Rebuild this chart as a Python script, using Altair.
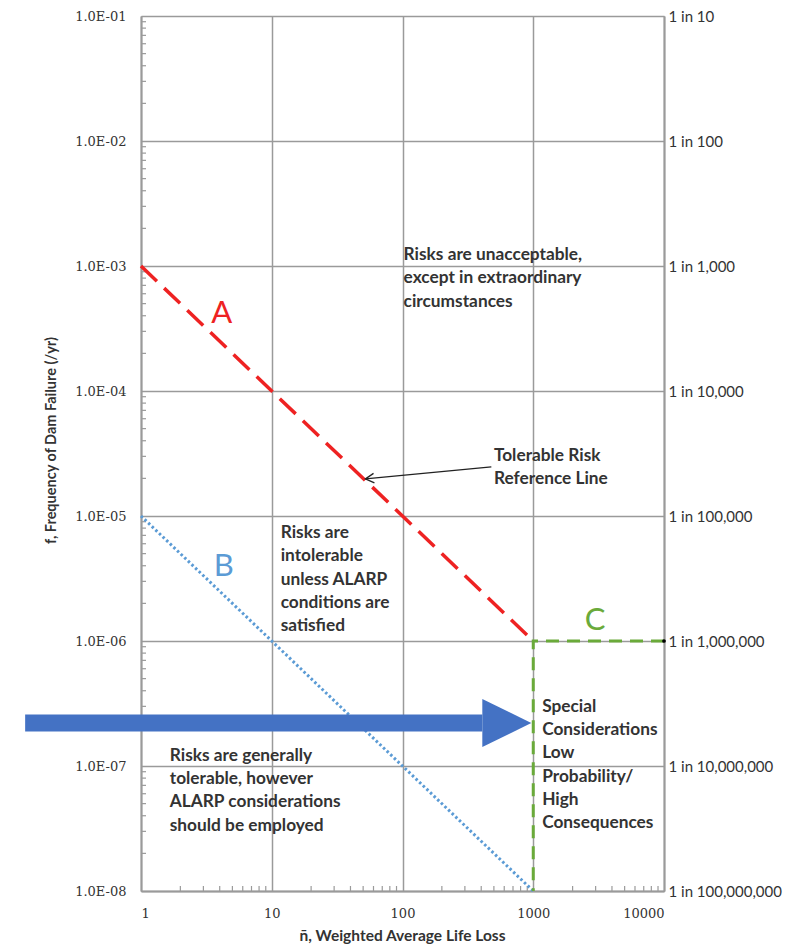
import altair as alt
import pandas as pd

# ---------------- data ----------------
x_ticks = [1, 10, 100, 1000, 10000]
x_labels = ["1", "10", "100", "1000", "10000"]
y_ticks = [1e-8, 1e-7, 1e-6, 1e-5, 1e-4, 1e-3, 1e-2, 1e-1]
y_left_labels = ["1.0E-08", "1.0E-07", "1.0E-06", "1.0E-05",
                 "1.0E-04", "1.0E-03", "1.0E-02", "1.0E-01"]
y_right_labels = ["1 in 100,000,000", "1 in 10,000,000", "1 in 1,000,000",
                  "1 in 100,000", "1 in 10,000", "1 in 1,000", "1 in 100", "1 in 10"]

line_a_x = [1, 1000]
line_a_y = [1e-3, 1e-6]
line_b_x = [1, 1000]
line_b_y = [1e-5, 1e-8]
line_c_x = [10000, 1000, 1000]
line_c_y = [1e-6, 1e-6, 1e-8]
dot_x = [10000]
dot_y = [1e-6]

letters = ["A", "B", "C"]
letter_x = [4.15, 4.3, 2970]
letter_y = [4.1e-4, 3.9e-6, 1.45e-6]

notes = [
    "Risks are unacceptable,\nexcept in extraordinary\ncircumstances",
    "Tolerable Risk\nReference Line",
    "Risks are\nintolerable\nunless ALARP\nconditions are\nsatisfied",
    "Risks are generally\ntolerable, however\nALARP considerations\nshould be employed",
    "Special\nConsiderations\nLow\nProbability/\nHigh\nConsequences",
]
note_x = [102, 500, 11.7, 1.66, 1170]
note_y = [1.44e-3, 3.55e-5, 8.6e-6, 1.42e-7, 3.5e-7]

pointer_x = [478, 52]      # black arrow: text -> line
pointer_y = [2.47e-5, 1.98e-5]

big_arrow_x = [0.13, 408]  # big blue arrow shaft
big_arrow_y = [2.21e-7, 2.21e-7]
big_head_x = [628]
big_head_y = [2.21e-7]

minor_vals_y = [m * 10.0 ** e for e in range(-8, -1) for m in range(2, 10)]
minor_vals_x = [m * 10.0 ** e for e in range(0, 4) for m in range(2, 10)]

# ---------------- helpers ----------------
def label_expr(values, labels):
    expr = "''"
    for v, l in zip(values, labels):
        expr = f"(datum.value > {v/1.5} && datum.value < {v*1.5}) ? '{l}' : ({expr})"
    return expr

W, H = 523, 875
GRID = "#9a9a9a"
TXT = "#333333"
xs = alt.Scale(type="log", domain=[1, 10000], nice=False)
ys = alt.Scale(type="log", domain=[1e-8, 1e-1], nice=False)

x_axis = alt.Axis(values=x_ticks, labelExpr=label_expr(x_ticks, x_labels),
                  grid=True, gridColor=GRID, gridWidth=1.5, ticks=False,
                  domainColor=GRID, domainWidth=2, labelPadding=16,
                  labelFont="DejaVu Serif", labelFontSize=13, labelColor=TXT,
                  title="n\u0304, Weighted Average Life Loss", titleFont="Lato",
                  titleFontSize=15.5, titleFontWeight="bold", titleColor=TXT,
                  titleX=261, titleY=44, titleAnchor="middle", titleBaseline="middle")
y_axis_left = alt.Axis(values=y_ticks, labelExpr=label_expr(y_ticks, y_left_labels),
                       grid=True, gridColor=GRID, gridWidth=1.5, ticks=False,
                       domainColor=GRID, domainWidth=2, labelPadding=15,
                       labelFont="DejaVu Serif", labelFontSize=13, labelColor=TXT,
                       title="f, Frequency of Dam Failure (/yr)", titleFont="Lato",
                       titleFontSize=14.5, titleFontWeight="bold", titleColor=TXT,
                       titleX=-90, titleY=424, titleAngle=270, titleAnchor="middle",
                       titleBaseline="middle")
y_axis_right = alt.Axis(orient="right", values=y_ticks,
                        labelExpr=label_expr(y_ticks, y_right_labels),
                        grid=False, ticks=False, domainColor=GRID, domainWidth=2,
                        labelPadding=4, labelFont="Lato", labelFontSize=15,
                        labelColor=TXT, title=None)


def X(f="x"):
    return alt.X(f + ":Q", scale=xs, axis=x_axis)


def Y(f="y"):
    return alt.Y(f + ":Q", scale=ys, axis=None)


grid_df = pd.DataFrame({"x": [1, 10000], "y": [1e-8, 1e-1]})
base_axes = alt.Chart(grid_df).mark_point(opacity=0).encode(
    x=X(), y=alt.Y("y:Q", scale=ys, axis=y_axis_left))
right_axis = alt.Chart(grid_df).mark_point(opacity=0).encode(
    x=X(), y=alt.Y("y:Q", scale=ys, axis=y_axis_right))

minor_y = alt.Chart(pd.DataFrame({"y": minor_vals_y})).mark_rule(color=GRID, strokeWidth=1.2).encode(
    y=Y(), x=alt.value(0), x2=alt.value(5))
minor_x = alt.Chart(pd.DataFrame({"x": minor_vals_x})).mark_rule(color=GRID, strokeWidth=1.2).encode(
    x=X(), y=alt.value(H), y2=alt.value(H - 5))


def line(xv, yv, **kw):
    df = pd.DataFrame({"x": xv, "y": yv, "o": list(range(len(xv)))})
    return alt.Chart(df).mark_line(**kw).encode(x=X(), y=Y(), order="o:Q")


line_a = line(line_a_x, line_a_y, color="#ee2222", strokeWidth=3.5, strokeDash=[22, 10])
line_b = line(line_b_x, line_b_y, color="#5b9bd5", strokeWidth=3, strokeDash=[2.5, 2.5])
line_c = line(line_c_x, line_c_y, color="#6aaa3a", strokeWidth=3, strokeDash=[13, 8])
dot = alt.Chart(pd.DataFrame({"x": dot_x, "y": dot_y})).mark_point(
    filled=True, color="black", size=14, opacity=1).encode(x=X(), y=Y())

letter_colors = ["#ee2222", "#5b9bd5", "#6aaa3a"]
letter_layers = []
for i, c in enumerate(letter_colors):
    df = pd.DataFrame({"t": [letters[i]], "x": [letter_x[i]], "y": [letter_y[i]]})
    letter_layers.append(alt.Chart(df).mark_text(
        color=c, font="Lato", fontSize=31, align="center", baseline="middle").encode(
        x=X(), y=Y(), text="t:N"))

notes_df = pd.DataFrame({"t": notes, "x": note_x, "y": note_y})
notes_layer = alt.Chart(notes_df).mark_text(
    align="left", baseline="top", lineBreak="\n", lineHeight=23.2, font="Lato",
    fontSize=17.3, fontWeight="bold", color=TXT).encode(x=X(), y=Y(), text="t:N")

pointer = line(pointer_x, pointer_y, color="#222", strokeWidth=1.3)
pointer_head = alt.Chart(pd.DataFrame({"x": [pointer_x[1]], "y": [pointer_y[1]]})).mark_point(
    shape="M 1 -0.55 L 0 0 L 1 0.55", filled=False, color="#222", strokeWidth=1.3,
    size=300, angle=354.6, opacity=1).encode(x=X(), y=Y())

big_shaft = alt.Chart(pd.DataFrame({"x": [big_arrow_x[0]], "x2": [big_arrow_x[1]],
                                    "y": [big_arrow_y[0]]})).mark_rule(
    color="#4472c4", strokeWidth=17, strokeCap="butt", clip=False).encode(
    x=X(), x2="x2:Q", y=Y())
big_head = alt.Chart(pd.DataFrame({"x": big_head_x, "y": big_head_y})).mark_point(
    shape="M -1 -0.98 L 1 0 L -1 0.98 Z", filled=True, color="#4472c4",
    size=2401, opacity=1, clip=False).encode(x=X(), y=Y())

chart = alt.layer(
    base_axes, minor_y, minor_x, line_b, line_a, line_c, dot,
    *letter_layers, notes_layer, pointer, pointer_head, big_shaft, big_head, right_axis,
).resolve_scale(y="independent").properties(
    width=W, height=H,
    autosize=alt.AutoSizeParams(type="none"),
    padding={"left": 133, "top": 8, "right": 121, "bottom": 56},
).configure_view(stroke=None).configure(background="white")

chart.save("out.html", embed_options={"renderer": "svg", "actions": False})
